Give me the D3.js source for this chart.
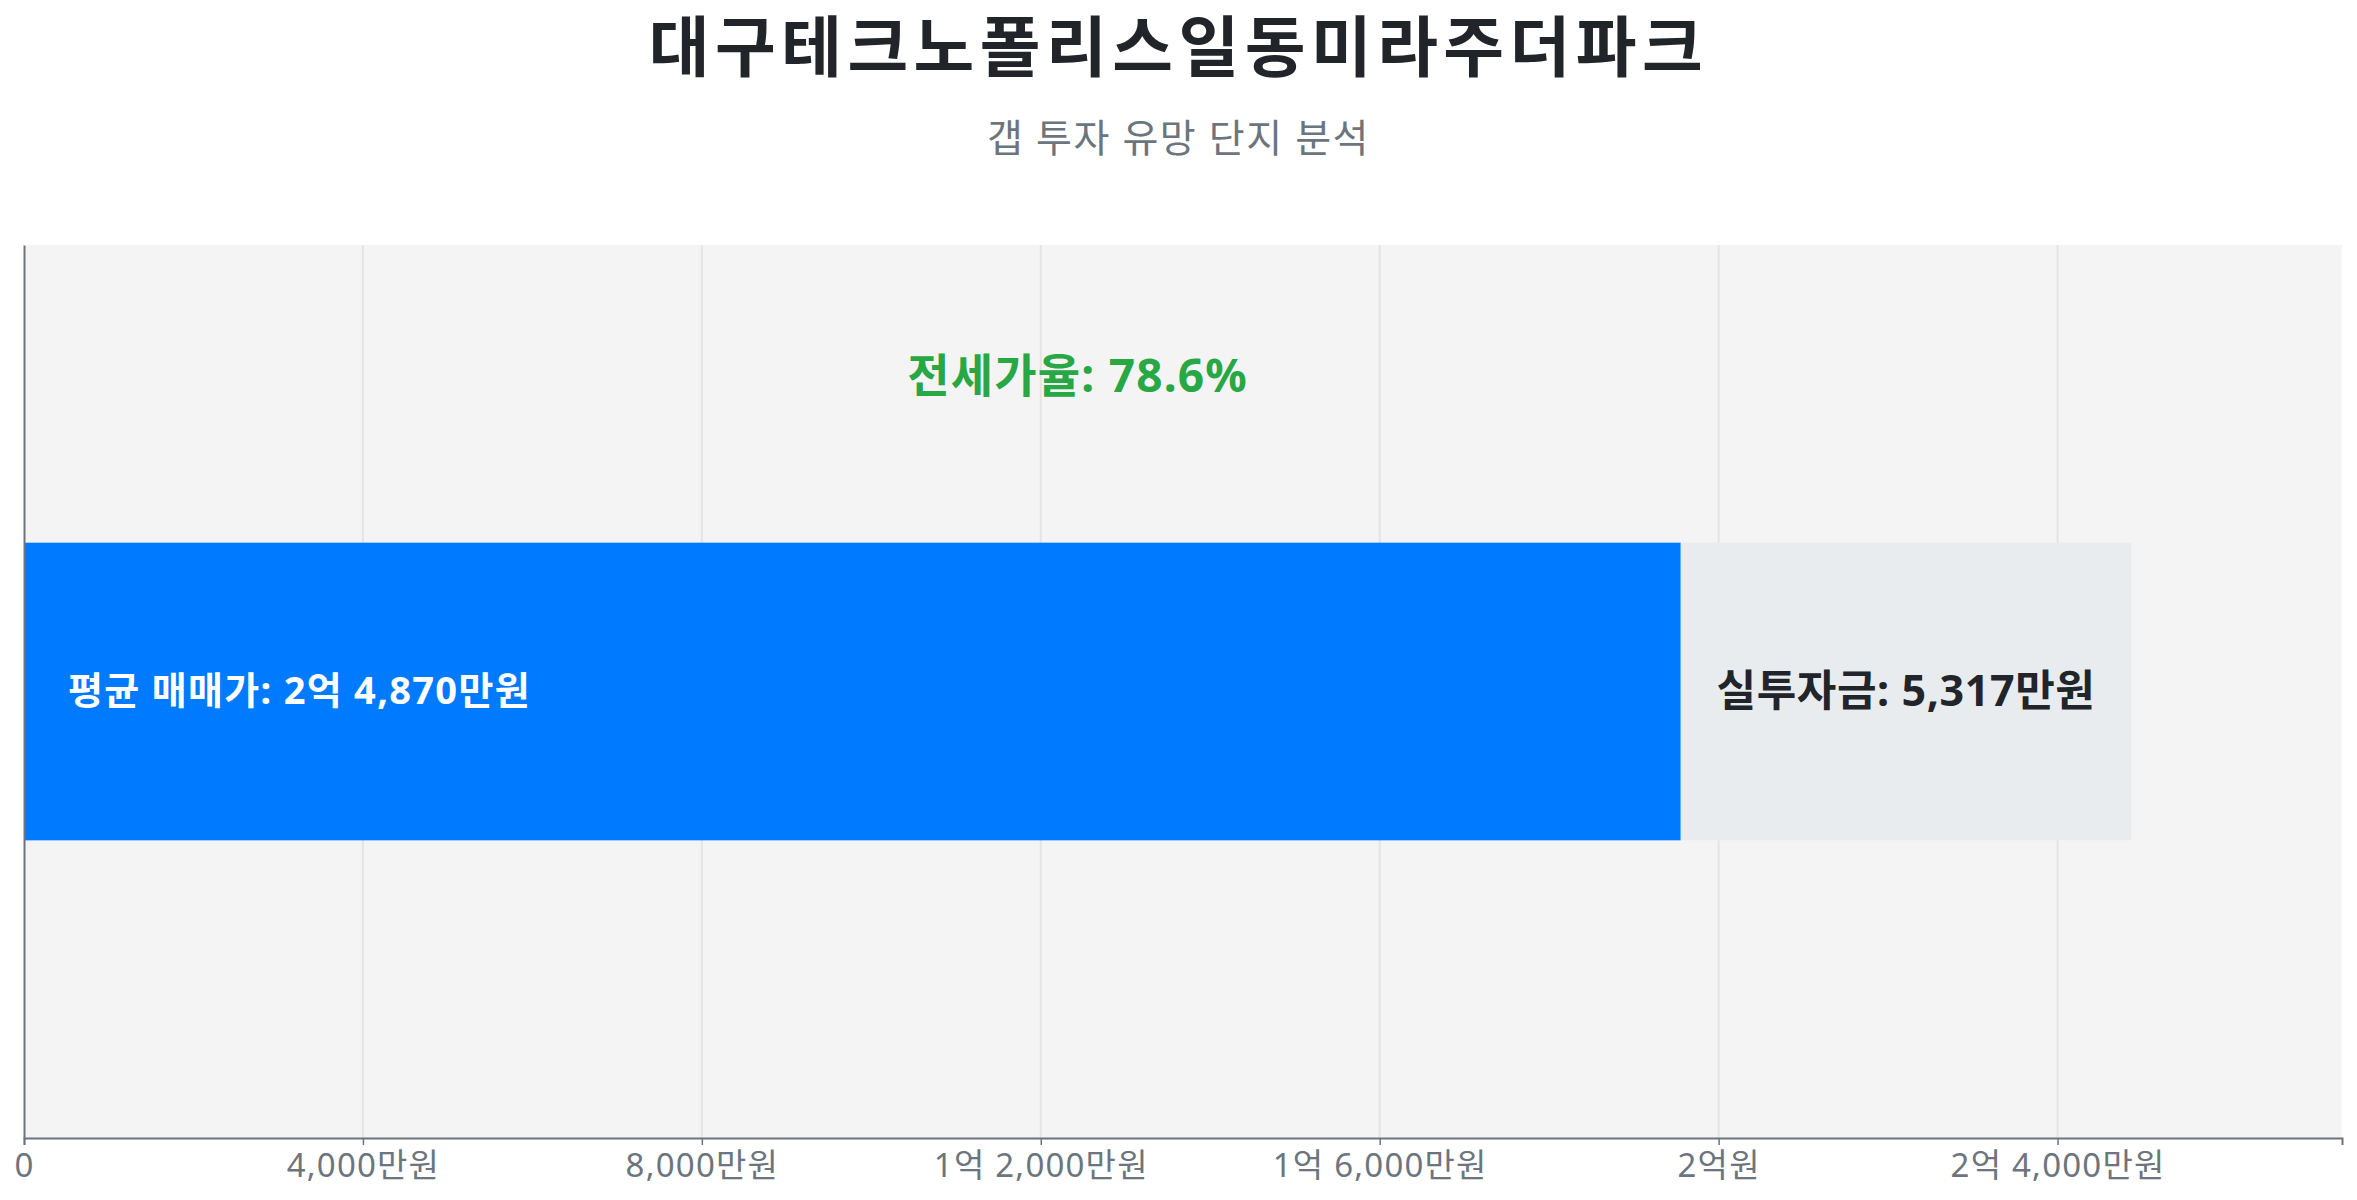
<!DOCTYPE html>
<html>
<head>
<meta charset="utf-8">
<script src="https://cdn.jsdelivr.net/npm/d3@7"></script>
<style>
  html, body { margin: 0; padding: 0; background: #fff; }
  svg { display: block; font-family: "Noto Sans", "Noto Sans CJK KR", sans-serif; }
</style>
</head>
<body>
<svg id="chart" width="2357" height="1200"></svg>
<script>
const title = "대구테크노폴리스일동미라주더파크"
const subtitle = "갭 투자 유망 단지 분석"

// values in 만원
const categories = ["단지"]
const salePrice = [24870]     // 평균 매매가
const jeonsePrice = [19553]   // 전세가 (매매가 - 실투자금)
const gapAmount = [5317]      // 실투자금
const jeonseRatio = [78.6]

const tickValues = [0, 4000, 8000, 12000, 16000, 20000, 24000]

const fmtMan = (v) => {
  if (v === 0) return "0"
  const eok = Math.floor(v / 10000)
  const man = v % 10000
  if (eok > 0 && man === 0) return `${eok}억원`
  if (eok > 0) return `${eok}억 ${d3.format(",")(man)}만원`
  return `${d3.format(",")(man)}만원`
}

const svg = d3.select("#chart")
const W = 2357, H = 1200
const margin = { top: 245, right: 15, bottom: 62, left: 24 }
const width = W - margin.left - margin.right
const height = H - margin.top - margin.bottom

// Title
svg.append("text")
  .attr("x", W / 2).attr("y", 71)
  .attr("text-anchor", "middle")
  .style("font-size", "66px").style("font-weight", 700)
  .style("letter-spacing", "5.5px")
  .style("fill", "#212529")
  .text(title)

svg.append("text")
  .attr("x", W / 2).attr("y", 152)
  .attr("text-anchor", "middle")
  .style("font-size", "39px")
  .style("letter-spacing", "1.5px")
  .style("fill", "#6c757d")
  .text(subtitle)

const g = svg.append("g").attr("transform", `translate(${margin.left},${margin.top})`)

const x = d3.scaleLinear().domain([0, salePrice[0] * 1.1]).range([0, width])
const y = d3.scaleBand().domain(categories).range([0, height]).padding(0.5)

// plot background
g.append("rect")
  .attr("width", width).attr("height", height)
  .attr("fill", "#f4f4f4")

// grid
g.append("g")
  .selectAll("line")
  .data(tickValues.slice(1))
  .join("line")
  .attr("x1", (d) => x(d)).attr("x2", (d) => x(d))
  .attr("y1", 0).attr("y2", height)
  .attr("stroke", "#e4e4e4")
  .attr("stroke-width", 2)

// bars: 전세가 (blue) + 실투자금 (gray)
g.selectAll(".bar-jeonse")
  .data(categories)
  .join("rect")
  .attr("class", "bar-jeonse")
  .attr("x", x(0))
  .attr("y", (d) => y(d))
  .attr("width", (d, i) => x(jeonsePrice[i]) - x(0))
  .attr("height", y.bandwidth())
  .attr("fill", "#007bff")

g.selectAll(".bar-gap")
  .data(categories)
  .join("rect")
  .attr("class", "bar-gap")
  .attr("x", (d, i) => x(jeonsePrice[i]))
  .attr("y", (d) => y(d))
  .attr("width", (d, i) => x(jeonsePrice[i] + gapAmount[i]) - x(jeonsePrice[i]))
  .attr("height", y.bandwidth())
  .attr("fill", "#e9ecef")

// labels
g.selectAll(".lbl-sale")
  .data(categories)
  .join("text")
  .attr("x", x(0) + 44)
  .attr("y", (d) => y(d) + y.bandwidth() / 2)
  .attr("dy", "0.33em")
  .style("font-size", "38px").style("font-weight", 700)
  .style("letter-spacing", "1.3px")
  .style("fill", "#fff")
  .text((d, i) => `평균 매매가: ${fmtMan(salePrice[i])}`)

g.selectAll(".lbl-gap")
  .data(categories)
  .join("text")
  .attr("x", (d, i) => x(jeonsePrice[i] + gapAmount[i] / 2))
  .attr("y", (d) => y(d) + y.bandwidth() / 2)
  .attr("dy", "0.33em")
  .attr("text-anchor", "middle")
  .style("font-size", "43px").style("font-weight", 700)
  .style("letter-spacing", "0.6px")
  .style("fill", "#212529")
  .text((d, i) => `실투자금: ${fmtMan(gapAmount[i])}`)

g.selectAll(".lbl-ratio")
  .data(categories)
  .join("text")
  .attr("x", (d, i) => x(salePrice[i] / 2))
  .attr("y", (d) => y(d) - 151)
  .attr("text-anchor", "middle")
  .style("font-size", "46px").style("font-weight", 700)
  .style("letter-spacing", "1.2px")
  .style("fill", "#28a745")
  .text((d, i) => `전세가율: ${jeonseRatio[i]}%`)

// axes
const xAxis = g.append("g")
  .attr("transform", `translate(0,${height})`)
  .call(d3.axisBottom(x).tickValues(tickValues).tickFormat(fmtMan).tickSize(7).tickPadding(9))
xAxis.select(".domain").attr("stroke", "#6c757d").attr("stroke-width", 2)
xAxis.selectAll(".tick line").attr("stroke", "#6c757d").attr("stroke-width", 1.5)
xAxis.selectAll("text")
  .style("font-size", "33px")
  .style("letter-spacing", "1.2px")
  .style("font-family", "\"Noto Sans\", \"Noto Sans CJK KR\", sans-serif")
  .style("fill", "#6c757d")

const yAxis = g.append("g")
  .call(d3.axisLeft(y).tickSize(0).tickFormat(""))
yAxis.select(".domain").attr("stroke", "#6c757d").attr("stroke-width", 2)
</script>
</body>
</html>
